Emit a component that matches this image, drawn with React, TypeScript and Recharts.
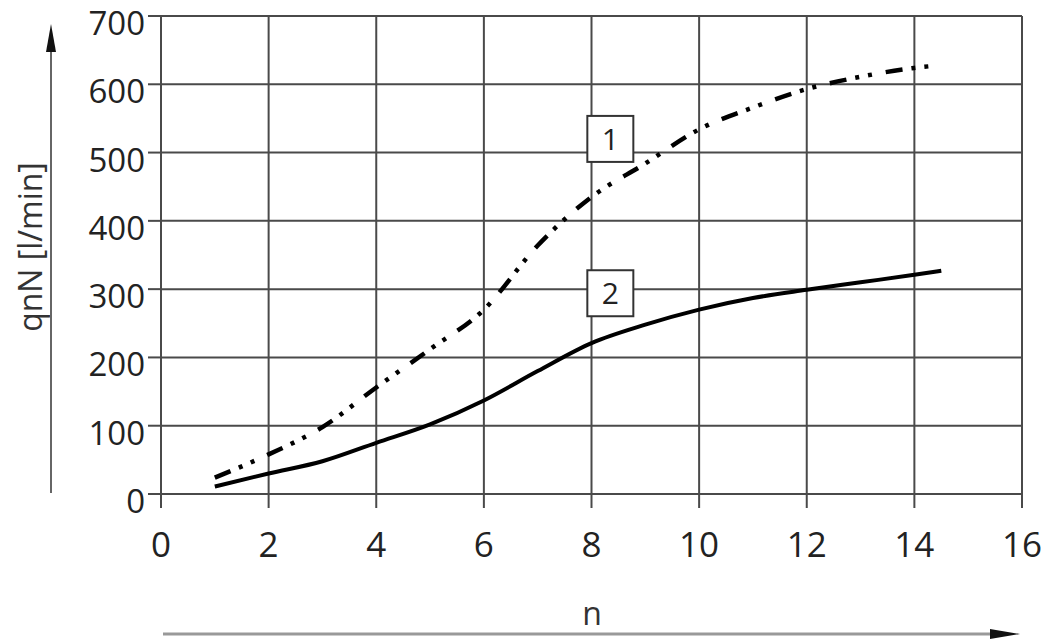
import React from 'react';
import {
  LineChart,
  Line,
  XAxis,
  YAxis,
  CartesianGrid,
  ReferenceDot,
} from 'recharts';

// speed n (x) and flow rate qnN [l/min] for the two curves
const nValues = [1, 2, 3, 4, 5, 6, 7, 8, 9, 10, 11, 12, 13, 14, 14.5];
const curve1 = [24, 58, 98, 156, 212, 270, 364, 435, 484, 534, 566, 593, 611, 624, 628];
const curve2 = [11, 30, 48, 75, 102, 137, 180, 221, 248, 270, 287, 299, 310, 321, 327];

const xTicks = [0, 2, 4, 6, 8, 10, 12, 14, 16];
const yTicks = [0, 100, 200, 300, 400, 500, 600, 700];

// boxed curve numbers
const markerText = ['1', '2'];
const markerX = [8.35, 8.35];
const markerY = [520, 294];

const FONT = '"Open Sans", "DejaVu Sans", sans-serif';
const GRID = '#4a4a4a';
const TEXT = '#222';

const chartData = nValues.map((n, i) => ({ n, c1: curve1[i], c2: curve2[i] }));

const BoxLabel = (text: string) => (props: any) => {
  const { cx, cy } = props;
  if (cx == null || cy == null) return null;
  return (
    <g>
      <rect x={cx - 23} y={cy - 23} width={46} height={46} fill="#fff" stroke="#333" strokeWidth={2} />
      <text x={cx} y={cy + 11} textAnchor="middle" fontSize={30} fontFamily={FONT} fill={TEXT}>
        {text}
      </text>
    </g>
  );
};

// y labels sit a little below their grid lines in the original
const YTick = (props: any) => {
  const { x, y, payload } = props;
  return (
    <text x={x} y={y + 19} textAnchor="end" fontSize={33} fontFamily={FONT} fill={TEXT}>
      {payload.value}
    </text>
  );
};

const YTitle = () => (
  <text
    x={42}
    y={247}
    transform="rotate(-90 42 247)"
    textAnchor="middle"
    fontSize={32}
    fontFamily={FONT}
    fill="#333"
  >
    qnN [l/min]
  </text>
);

const XTitle = () => (
  <text x={592} y={625} textAnchor="middle" fontSize={32} fontFamily={FONT} fill="#333">
    n
  </text>
);

export default function App() {
  return (
    <div style={{ position: 'absolute', left: 0, top: 0, width: 1048, height: 642, background: '#fff' }}>
      <LineChart
        width={1048}
        height={642}
        data={chartData}
        margin={{ top: 16, right: 26, left: 0, bottom: 0 }}
        style={{ fontFamily: FONT }}
      >
        <CartesianGrid stroke={GRID} strokeWidth={2} />
        <XAxis
          dataKey="n"
          type="number"
          domain={[0, 16]}
          ticks={xTicks}
          height={148}
          tickSize={14}
          tickMargin={24}
          stroke={GRID}
          strokeWidth={2}
          tick={{ fill: TEXT, fontSize: 35, fontFamily: FONT }}
          label={<XTitle />}
        />
        <YAxis
          type="number"
          domain={[0, 700]}
          ticks={yTicks}
          width={161}
          tickSize={13}
          tickMargin={3}
          stroke={GRID}
          strokeWidth={2}
          tick={<YTick />}
          label={<YTitle />}
        />
        <Line
          dataKey="c1"
          type="monotone"
          stroke="#000"
          strokeWidth={4.5}
          strokeDasharray="17 9 4 9 4 14"
          dot={false}
          activeDot={false}
          isAnimationActive={false}
        />
        <Line
          dataKey="c2"
          type="monotone"
          stroke="#000"
          strokeWidth={4}
          dot={false}
          activeDot={false}
          isAnimationActive={false}
        />
        {markerText.map((t, i) => (
          <ReferenceDot key={t} x={markerX[i]} y={markerY[i]} r={1} shape={BoxLabel(t)} />
        ))}
      </LineChart>
      {/* axis direction arrows */}
      <svg
        width={1048}
        height={642}
        style={{ position: 'absolute', left: 0, top: 0, pointerEvents: 'none' }}
      >
        <line x1={51} y1={493} x2={51} y2={50} stroke="#666" strokeWidth={2} />
        <polygon points="51,24 46,52 56,52" fill="#111" />
        <line x1={163} y1={634} x2={995} y2={634} stroke="#999" strokeWidth={3} />
        <polygon points="1020,634 990,629 990,639" fill="#111" />
      </svg>
    </div>
  );
}
